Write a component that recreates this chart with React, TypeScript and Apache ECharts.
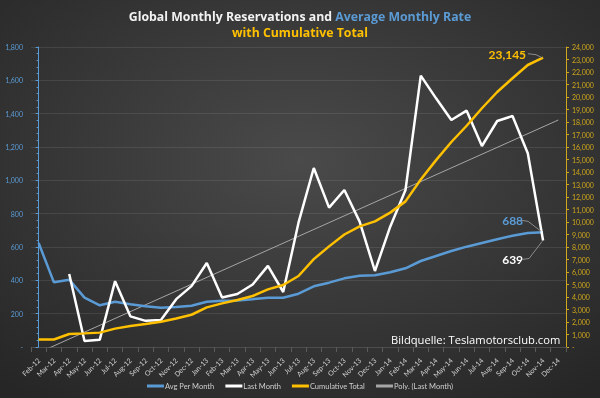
import React, { useEffect, useRef } from "react";
import * as echarts from "echarts";

const categories = [
  "Feb-12", "Mar-12", "Apr-12", "May-12", "Jun-12", "Jul-12", "Aug-12", "Sep-12", "Oct-12", "Nov-12", "Dec-12",
  "Jan-13", "Feb-13", "Mar-13", "Apr-13", "May-13", "Jun-13", "Jul-13", "Aug-13", "Sep-13", "Oct-13", "Nov-13", "Dec-13",
  "Jan-14", "Feb-14", "Mar-14", "Apr-14", "May-14", "Jun-14", "Jul-14", "Aug-14", "Sep-14", "Oct-14", "Nov-14", "Dec-14",
];

const avgPerMonth = [
  624, 388, 404, 296, 250, 272, 257, 245, 236, 240, 248,
  272, 278, 279, 287, 296, 296, 320, 364, 386, 412, 428, 430,
  448, 472, 516, 546, 576, 602, 624, 646, 668, 684, 688, null,
];

const lastMonth = [
  null, null, 438, 36, 44, 395, 184, 157, 162, 287, 365,
  504, 297, 318, 375, 487, 330, 746, 1074, 836, 942, 752, 456,
  722, 942, 1628, 1492, 1362, 1418, 1206, 1356, 1386, 1162, 639, null,
];

const cumulativeTotal = [
  600, 600, 1040, 1090, 1150, 1470, 1680, 1840, 2020, 2280, 2580,
  3170, 3490, 3760, 4080, 4610, 4960, 5680, 7030, 8050, 9000, 9650, 10050,
  10750, 11650, 13400, 14950, 16400, 17700, 19100, 20400, 21500, 22560, 23145, null,
];

// Trendline end points: [category index, value]
const polyTrend = [
  [0, -34],
  [34, 1362],
];

const BLUE = "#5b9bd5";
const GOLD = "#ffc000";
const GOLD_AXIS = "#cfa61c";
const LEADER = "#8c8c8c";

function fmt(v: number) {
  if (v === 0) return "-";
  return v.toLocaleString("en-US");
}

function lastIndex(arr: (number | null)[]) {
  let last = -1;
  arr.forEach((v, i) => {
    if (v !== null) last = i;
  });
  return last;
}

function withLastLabel(arr: (number | null)[], label: any) {
  const last = lastIndex(arr);
  return arr.map((v, i) => (i === last ? { value: v, label } : v));
}

export default function App() {
  const ref = useRef<HTMLDivElement>(null);
  useEffect(() => {
    if (!ref.current) return;
    const chart = echarts.init(ref.current, null, { renderer: "svg" });
    const labelBase = {
      show: true,
      position: "left",
      fontFamily: "Lato",
      fontWeight: "bold",
      fontSize: 12,
    };
    const lineCommon = {
      type: "line",
      showSymbol: true,
      symbol: "circle",
      symbolSize: 0,
      label: { show: false },
    };
    chart.setOption({
      animation: false,
      backgroundColor: {
        type: "radial",
        x: 0.5,
        y: 0.4,
        r: 0.75,
        colorStops: [
          { offset: 0, color: "#4a4a4a" },
          { offset: 1, color: "#262626" },
        ],
      },
      title: {
        left: "center",
        top: 3,
        text: "{w|Global Monthly Reservations and }{b|Average Monthly Rate}\n{y|with Cumulative Total}",
        textStyle: {
          rich: {
            w: { color: "#f2f2f2", fontFamily: "Open Sans", fontWeight: "bold", fontSize: 12.3, lineHeight: 16 },
            b: { color: BLUE, fontFamily: "Open Sans", fontWeight: "bold", fontSize: 12.3, lineHeight: 16 },
            y: { color: GOLD, fontFamily: "Open Sans", fontWeight: "bold", fontSize: 12.3, lineHeight: 16 },
          },
        },
      },
      grid: { left: 31, right: 34, top: 47, bottom: 51, containLabel: false },
      legend: {
        bottom: 3,
        left: "center",
        icon: "rect",
        itemWidth: 17,
        itemHeight: 3,
        itemGap: 11,
        textStyle: { color: "#cfcfcf", fontSize: 7.5, fontFamily: "Lato", padding: [0, 0, 0, -4] },
        data: [
          { name: "Avg Per Month" },
          { name: "Last Month" },
          { name: "Cumulative Total" },
          { name: "Poly. (Last Month)", itemStyle: { color: "#a6a6a6" } },
        ],
      },
      xAxis: [
        {
          type: "category",
          data: categories,
          boundaryGap: true,
          axisLine: { show: true, lineStyle: { color: "#4d4d4d" } },
          axisTick: { show: true, lineStyle: { color: "#5a5a5a" } },
          axisLabel: {
            interval: 0,
            rotate: 45,
            color: "#d0d0d0",
            fontSize: 7,
            fontFamily: "Lato",
            margin: 12,
          },
        },
        {
          type: "value",
          min: -0.5,
          max: 34.5,
          show: false,
        },
      ],
      yAxis: [
        {
          type: "value",
          min: 0,
          max: 1800,
          interval: 200,
          axisLine: { show: true, lineStyle: { color: BLUE, width: 1 } },
          axisTick: { show: true, length: 3, lineStyle: { color: BLUE } },
          minorTick: { show: true, splitNumber: 5, length: 2, lineStyle: { color: BLUE } },
          axisLabel: {
            color: BLUE,
            fontSize: 7,
            fontFamily: "Lato",
            margin: 8,
            formatter: (v: number) => fmt(v),
          },
          splitLine: { show: true, lineStyle: { color: "rgba(255,255,255,0.09)", width: 1 } },
        },
        {
          type: "value",
          min: 0,
          max: 24000,
          interval: 1000,
          position: "right",
          axisLine: { show: true, lineStyle: { color: GOLD_AXIS, width: 1 } },
          axisTick: { show: true, length: 3, lineStyle: { color: GOLD_AXIS } },
          axisLabel: {
            color: GOLD_AXIS,
            fontSize: 7,
            fontFamily: "Lato",
            margin: 6,
            formatter: (v: number) => fmt(v),
          },
          splitLine: { show: false },
        },
      ],
      series: [
        {
          ...lineCommon,
          name: "Avg Per Month",
          yAxisIndex: 0,
          data: withLastLabel(avgPerMonth, {
            ...labelBase,
            color: BLUE,
            distance: 20,
            offset: [0, -12],
          }),
          lineStyle: { color: BLUE, width: 2.5 },
          itemStyle: { color: BLUE },
          z: 3,
        },
        {
          ...lineCommon,
          name: "Last Month",
          yAxisIndex: 0,
          data: withLastLabel(lastMonth, {
            ...labelBase,
            color: "#ffffff",
            distance: 20,
            offset: [0, 19],
          }),
          lineStyle: { color: "#ffffff", width: 2.5 },
          itemStyle: { color: "#ffffff" },
          z: 4,
        },
        {
          ...lineCommon,
          name: "Cumulative Total",
          yAxisIndex: 1,
          data: withLastLabel(cumulativeTotal, {
            ...labelBase,
            color: GOLD,
            distance: 17,
            offset: [0, -3],
            formatter: (p: any) => fmt(p.value),
          }),
          lineStyle: { color: GOLD, width: 2.5 },
          itemStyle: { color: GOLD },
          z: 5,
        },
        {
          name: "Poly. (Last Month)",
          type: "line",
          xAxisIndex: 1,
          yAxisIndex: 0,
          data: polyTrend,
          showSymbol: false,
          symbol: "none",
          lineStyle: { color: "#a6a6a6", width: 1 },
          itemStyle: { color: "#a6a6a6" },
          z: 2,
        },
      ],
      graphic: [
        {
          id: "watermark",
          type: "text",
          left: 391,
          top: 334,
          style: {
            text: "Bildquelle: Teslamotorsclub.com",
            fill: "#ffffff",
            fontSize: 11.2,
            fontFamily: "Open Sans",
          },
          z: 10,
        },
      ],
    });

    // leader lines from the end labels to the last points
    const leader = (
      id: string,
      yAxisIndex: number,
      arr: (number | null)[],
      rel: number[][]
    ) => {
      const i = lastIndex(arr);
      const p = chart.convertToPixel({ xAxisIndex: 0, yAxisIndex }, [i, arr[i] as number]) as number[];
      return {
        id,
        type: "polyline",
        shape: { points: rel.map(([dx, dy]) => [p[0] + dx, p[1] + dy]) },
        style: { stroke: LEADER, lineWidth: 1, fill: "none" },
        z: 9,
      };
    };
    chart.setOption({
      graphic: [
        leader("lead-cum", 1, cumulativeTotal, [[-15, -4], [-7, -3], [-1, 0]]),
        leader("lead-avg", 0, avgPerMonth, [[-22, -12], [-15, -11], [-2, -1]]),
        leader("lead-last", 0, lastMonth, [[-21, 19], [-14, 18], [-1, 1]]),
      ],
    });
    return () => chart.dispose();
  }, []);
  return (
    <div
      ref={ref}
      style={{ position: "fixed", left: 0, top: 0, width: 600, height: 398 }}
    />
  );
}
